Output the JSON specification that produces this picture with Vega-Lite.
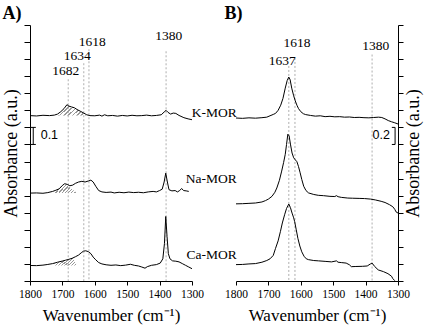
{
  "$schema": "https://vega.github.io/schema/vega-lite/v6.json",
  "padding": {"left": 2, "top": 4, "right": 2, "bottom": 2},
  "background": "white",
  "bounds": "flush",
  "spacing": 44,
  "config": {
    "view": {"stroke": null},
    "axis": {"grid": false, "domainColor": "#000", "tickColor": "#000", "labelColor": "#000", "titleColor": "#000",
      "labelFont": "Liberation Serif", "titleFont": "Liberation Serif", "titleFontWeight": "normal",
      "labelFontSize": 11.5, "titleFontSize": 17, "domainWidth": 1, "tickWidth": 1, "labelFlush": false, "labelOverlap": false},
    "title": {"font": "Liberation Serif", "fontWeight": "bold", "fontSize": 18, "anchor": "start", "color": "#000", "offset": 2}
  },
  "datasets": {
    "spectra": [
      {"p":"A","s":"K","w":1800,"a":9.69},{"p":"A","s":"K","w":1780,"a":9.67},{"p":"A","s":"K","w":1760,"a":9.71},{"p":"A","s":"K","w":1740,"a":9.69},{"p":"A","s":"K","w":1725,"a":9.72},{"p":"A","s":"K","w":1715,"a":9.78},{"p":"A","s":"K","w":1705,"a":9.92},{"p":"A","s":"K","w":1695,"a":10.1},{"p":"A","s":"K","w":1686,"a":10.33},{"p":"A","s":"K","w":1680,"a":10.25},{"p":"A","s":"K","w":1672,"a":10.2},{"p":"A","s":"K","w":1663,"a":10.15},{"p":"A","s":"K","w":1655,"a":10.05},{"p":"A","s":"K","w":1645,"a":9.95},{"p":"A","s":"K","w":1635,"a":9.85},{"p":"A","s":"K","w":1625,"a":9.74},{"p":"A","s":"K","w":1615,"a":9.69},{"p":"A","s":"K","w":1600,"a":9.68},{"p":"A","s":"K","w":1585,"a":9.72},{"p":"A","s":"K","w":1578,"a":9.66},{"p":"A","s":"K","w":1570,"a":9.74},{"p":"A","s":"K","w":1560,"a":9.68},{"p":"A","s":"K","w":1545,"a":9.7},{"p":"A","s":"K","w":1530,"a":9.66},{"p":"A","s":"K","w":1515,"a":9.7},{"p":"A","s":"K","w":1500,"a":9.67},{"p":"A","s":"K","w":1485,"a":9.71},{"p":"A","s":"K","w":1470,"a":9.68},{"p":"A","s":"K","w":1455,"a":9.69},{"p":"A","s":"K","w":1440,"a":9.72},{"p":"A","s":"K","w":1425,"a":9.68},{"p":"A","s":"K","w":1410,"a":9.7},{"p":"A","s":"K","w":1395,"a":9.74},{"p":"A","s":"K","w":1386,"a":9.9},{"p":"A","s":"K","w":1380,"a":10.0},{"p":"A","s":"K","w":1374,"a":9.88},{"p":"A","s":"K","w":1366,"a":9.78},{"p":"A","s":"K","w":1358,"a":9.84},{"p":"A","s":"K","w":1350,"a":9.82},{"p":"A","s":"K","w":1340,"a":9.7},{"p":"A","s":"K","w":1325,"a":9.57},{"p":"A","s":"K","w":1312,"a":9.5},{"p":"A","s":"K","w":1300,"a":9.45},
      {"p":"A","s":"Na","w":1800,"a":5.15},{"p":"A","s":"Na","w":1780,"a":5.16},{"p":"A","s":"Na","w":1760,"a":5.14},{"p":"A","s":"Na","w":1745,"a":5.18},{"p":"A","s":"Na","w":1730,"a":5.25},{"p":"A","s":"Na","w":1720,"a":5.32},{"p":"A","s":"Na","w":1710,"a":5.4},{"p":"A","s":"Na","w":1700,"a":5.6},{"p":"A","s":"Na","w":1693,"a":5.7},{"p":"A","s":"Na","w":1685,"a":5.66},{"p":"A","s":"Na","w":1677,"a":5.58},{"p":"A","s":"Na","w":1668,"a":5.62},{"p":"A","s":"Na","w":1660,"a":5.72},{"p":"A","s":"Na","w":1650,"a":5.8},{"p":"A","s":"Na","w":1640,"a":5.84},{"p":"A","s":"Na","w":1630,"a":5.8},{"p":"A","s":"Na","w":1620,"a":5.86},{"p":"A","s":"Na","w":1612,"a":5.91},{"p":"A","s":"Na","w":1605,"a":5.8},{"p":"A","s":"Na","w":1597,"a":5.55},{"p":"A","s":"Na","w":1588,"a":5.3},{"p":"A","s":"Na","w":1578,"a":5.22},{"p":"A","s":"Na","w":1565,"a":5.19},{"p":"A","s":"Na","w":1550,"a":5.21},{"p":"A","s":"Na","w":1540,"a":5.16},{"p":"A","s":"Na","w":1525,"a":5.2},{"p":"A","s":"Na","w":1510,"a":5.17},{"p":"A","s":"Na","w":1495,"a":5.21},{"p":"A","s":"Na","w":1480,"a":5.18},{"p":"A","s":"Na","w":1465,"a":5.2},{"p":"A","s":"Na","w":1450,"a":5.17},{"p":"A","s":"Na","w":1435,"a":5.22},{"p":"A","s":"Na","w":1420,"a":5.25},{"p":"A","s":"Na","w":1410,"a":5.22},{"p":"A","s":"Na","w":1400,"a":5.3},{"p":"A","s":"Na","w":1392,"a":5.38},{"p":"A","s":"Na","w":1386,"a":5.8},{"p":"A","s":"Na","w":1381,"a":6.32},{"p":"A","s":"Na","w":1376,"a":5.8},{"p":"A","s":"Na","w":1371,"a":5.35},{"p":"A","s":"Na","w":1362,"a":5.28},{"p":"A","s":"Na","w":1352,"a":5.3},{"p":"A","s":"Na","w":1345,"a":5.22},{"p":"A","s":"Na","w":1338,"a":5.3},{"p":"A","s":"Na","w":1332,"a":5.42},{"p":"A","s":"Na","w":1326,"a":5.3},{"p":"A","s":"Na","w":1318,"a":5.28},{"p":"A","s":"Na","w":1310,"a":5.25},
      {"p":"A","s":"Ca","w":1800,"a":0.91},{"p":"A","s":"Ca","w":1780,"a":0.9},{"p":"A","s":"Ca","w":1760,"a":0.93},{"p":"A","s":"Ca","w":1745,"a":0.97},{"p":"A","s":"Ca","w":1730,"a":1.02},{"p":"A","s":"Ca","w":1715,"a":1.1},{"p":"A","s":"Ca","w":1700,"a":1.17},{"p":"A","s":"Ca","w":1690,"a":1.22},{"p":"A","s":"Ca","w":1680,"a":1.27},{"p":"A","s":"Ca","w":1670,"a":1.33},{"p":"A","s":"Ca","w":1660,"a":1.42},{"p":"A","s":"Ca","w":1650,"a":1.52},{"p":"A","s":"Ca","w":1642,"a":1.65},{"p":"A","s":"Ca","w":1635,"a":1.75},{"p":"A","s":"Ca","w":1628,"a":1.77},{"p":"A","s":"Ca","w":1620,"a":1.72},{"p":"A","s":"Ca","w":1612,"a":1.6},{"p":"A","s":"Ca","w":1605,"a":1.4},{"p":"A","s":"Ca","w":1597,"a":1.24},{"p":"A","s":"Ca","w":1588,"a":1.08},{"p":"A","s":"Ca","w":1578,"a":1.0},{"p":"A","s":"Ca","w":1565,"a":0.95},{"p":"A","s":"Ca","w":1550,"a":0.92},{"p":"A","s":"Ca","w":1535,"a":0.94},{"p":"A","s":"Ca","w":1520,"a":0.9},{"p":"A","s":"Ca","w":1505,"a":0.93},{"p":"A","s":"Ca","w":1490,"a":0.98},{"p":"A","s":"Ca","w":1478,"a":0.92},{"p":"A","s":"Ca","w":1465,"a":0.88},{"p":"A","s":"Ca","w":1455,"a":0.82},{"p":"A","s":"Ca","w":1445,"a":0.75},{"p":"A","s":"Ca","w":1438,"a":0.84},{"p":"A","s":"Ca","w":1425,"a":0.92},{"p":"A","s":"Ca","w":1410,"a":0.96},{"p":"A","s":"Ca","w":1398,"a":1.05},{"p":"A","s":"Ca","w":1390,"a":1.3},{"p":"A","s":"Ca","w":1385,"a":2.2},{"p":"A","s":"Ca","w":1381,"a":3.78},{"p":"A","s":"Ca","w":1377,"a":2.6},{"p":"A","s":"Ca","w":1373,"a":1.6},{"p":"A","s":"Ca","w":1368,"a":1.3},{"p":"A","s":"Ca","w":1360,"a":1.18},{"p":"A","s":"Ca","w":1350,"a":1.16},{"p":"A","s":"Ca","w":1340,"a":1.12},{"p":"A","s":"Ca","w":1330,"a":1.02},{"p":"A","s":"Ca","w":1320,"a":0.92},{"p":"A","s":"Ca","w":1310,"a":0.82},{"p":"A","s":"Ca","w":1300,"a":0.72},
      {"p":"B","s":"K","w":1800,"a":9.55},{"p":"B","s":"K","w":1780,"a":9.53},{"p":"B","s":"K","w":1760,"a":9.56},{"p":"B","s":"K","w":1740,"a":9.54},{"p":"B","s":"K","w":1720,"a":9.57},{"p":"B","s":"K","w":1705,"a":9.6},{"p":"B","s":"K","w":1695,"a":9.68},{"p":"B","s":"K","w":1685,"a":9.76},{"p":"B","s":"K","w":1678,"a":9.82},{"p":"B","s":"K","w":1670,"a":10.0},{"p":"B","s":"K","w":1662,"a":10.3},{"p":"B","s":"K","w":1655,"a":10.7},{"p":"B","s":"K","w":1648,"a":11.3},{"p":"B","s":"K","w":1642,"a":11.75},{"p":"B","s":"K","w":1637,"a":11.95},{"p":"B","s":"K","w":1633,"a":11.8},{"p":"B","s":"K","w":1628,"a":11.3},{"p":"B","s":"K","w":1622,"a":10.85},{"p":"B","s":"K","w":1617,"a":10.55},{"p":"B","s":"K","w":1612,"a":10.3},{"p":"B","s":"K","w":1607,"a":10.1},{"p":"B","s":"K","w":1600,"a":9.92},{"p":"B","s":"K","w":1592,"a":9.8},{"p":"B","s":"K","w":1585,"a":9.75},{"p":"B","s":"K","w":1570,"a":9.7},{"p":"B","s":"K","w":1555,"a":9.66},{"p":"B","s":"K","w":1540,"a":9.68},{"p":"B","s":"K","w":1525,"a":9.63},{"p":"B","s":"K","w":1510,"a":9.65},{"p":"B","s":"K","w":1495,"a":9.62},{"p":"B","s":"K","w":1480,"a":9.63},{"p":"B","s":"K","w":1465,"a":9.6},{"p":"B","s":"K","w":1450,"a":9.61},{"p":"B","s":"K","w":1435,"a":9.58},{"p":"B","s":"K","w":1420,"a":9.59},{"p":"B","s":"K","w":1405,"a":9.57},{"p":"B","s":"K","w":1390,"a":9.56},{"p":"B","s":"K","w":1375,"a":9.58},{"p":"B","s":"K","w":1360,"a":9.6},{"p":"B","s":"K","w":1350,"a":9.58},{"p":"B","s":"K","w":1340,"a":9.5},{"p":"B","s":"K","w":1330,"a":9.4},{"p":"B","s":"K","w":1320,"a":9.33},{"p":"B","s":"K","w":1310,"a":9.27},{"p":"B","s":"K","w":1300,"a":9.2},
      {"p":"B","s":"Na","w":1800,"a":4.52},{"p":"B","s":"Na","w":1780,"a":4.53},{"p":"B","s":"Na","w":1760,"a":4.55},{"p":"B","s":"Na","w":1740,"a":4.57},{"p":"B","s":"Na","w":1720,"a":4.63},{"p":"B","s":"Na","w":1709,"a":4.71},{"p":"B","s":"Na","w":1700,"a":4.8},{"p":"B","s":"Na","w":1689,"a":4.96},{"p":"B","s":"Na","w":1680,"a":5.2},{"p":"B","s":"Na","w":1674,"a":5.45},{"p":"B","s":"Na","w":1666,"a":5.9},{"p":"B","s":"Na","w":1659,"a":6.44},{"p":"B","s":"Na","w":1653,"a":6.95},{"p":"B","s":"Na","w":1648,"a":7.42},{"p":"B","s":"Na","w":1644,"a":8.0},{"p":"B","s":"Na","w":1640,"a":8.6},{"p":"B","s":"Na","w":1636,"a":8.5},{"p":"B","s":"Na","w":1632,"a":8.02},{"p":"B","s":"Na","w":1627,"a":7.5},{"p":"B","s":"Na","w":1622,"a":7.22},{"p":"B","s":"Na","w":1617,"a":7.1},{"p":"B","s":"Na","w":1612,"a":6.99},{"p":"B","s":"Na","w":1607,"a":6.7},{"p":"B","s":"Na","w":1602,"a":6.34},{"p":"B","s":"Na","w":1597,"a":5.95},{"p":"B","s":"Na","w":1591,"a":5.55},{"p":"B","s":"Na","w":1584,"a":5.3},{"p":"B","s":"Na","w":1576,"a":5.16},{"p":"B","s":"Na","w":1560,"a":5.07},{"p":"B","s":"Na","w":1546,"a":5.02},{"p":"B","s":"Na","w":1530,"a":5.0},{"p":"B","s":"Na","w":1510,"a":4.96},{"p":"B","s":"Na","w":1495,"a":4.95},{"p":"B","s":"Na","w":1490,"a":5.0},{"p":"B","s":"Na","w":1485,"a":4.94},{"p":"B","s":"Na","w":1475,"a":4.9},{"p":"B","s":"Na","w":1455,"a":4.86},{"p":"B","s":"Na","w":1440,"a":4.85},{"p":"B","s":"Na","w":1420,"a":4.84},{"p":"B","s":"Na","w":1403,"a":4.83},{"p":"B","s":"Na","w":1385,"a":4.8},{"p":"B","s":"Na","w":1370,"a":4.75},{"p":"B","s":"Na","w":1352,"a":4.67},{"p":"B","s":"Na","w":1340,"a":4.6},{"p":"B","s":"Na","w":1326,"a":4.47},{"p":"B","s":"Na","w":1316,"a":4.35},{"p":"B","s":"Na","w":1310,"a":4.2},{"p":"B","s":"Na","w":1306,"a":4.05},{"p":"B","s":"Na","w":1300,"a":3.98},
      {"p":"B","s":"Ca","w":1800,"a":0.96},{"p":"B","s":"Ca","w":1780,"a":0.97},{"p":"B","s":"Ca","w":1760,"a":1.0},{"p":"B","s":"Ca","w":1740,"a":1.02},{"p":"B","s":"Ca","w":1720,"a":1.1},{"p":"B","s":"Ca","w":1705,"a":1.2},{"p":"B","s":"Ca","w":1695,"a":1.3},{"p":"B","s":"Ca","w":1685,"a":1.5},{"p":"B","s":"Ca","w":1678,"a":1.91},{"p":"B","s":"Ca","w":1670,"a":2.35},{"p":"B","s":"Ca","w":1663,"a":2.89},{"p":"B","s":"Ca","w":1657,"a":3.4},{"p":"B","s":"Ca","w":1650,"a":3.88},{"p":"B","s":"Ca","w":1644,"a":4.25},{"p":"B","s":"Ca","w":1637,"a":4.51},{"p":"B","s":"Ca","w":1632,"a":4.3},{"p":"B","s":"Ca","w":1627,"a":3.98},{"p":"B","s":"Ca","w":1622,"a":3.7},{"p":"B","s":"Ca","w":1619,"a":3.48},{"p":"B","s":"Ca","w":1614,"a":3.0},{"p":"B","s":"Ca","w":1609,"a":2.5},{"p":"B","s":"Ca","w":1603,"a":2.05},{"p":"B","s":"Ca","w":1597,"a":1.71},{"p":"B","s":"Ca","w":1590,"a":1.45},{"p":"B","s":"Ca","w":1583,"a":1.3},{"p":"B","s":"Ca","w":1576,"a":1.25},{"p":"B","s":"Ca","w":1560,"a":1.2},{"p":"B","s":"Ca","w":1545,"a":1.18},{"p":"B","s":"Ca","w":1525,"a":1.15},{"p":"B","s":"Ca","w":1505,"a":1.12},{"p":"B","s":"Ca","w":1490,"a":1.18},{"p":"B","s":"Ca","w":1485,"a":1.1},{"p":"B","s":"Ca","w":1475,"a":1.08},{"p":"B","s":"Ca","w":1460,"a":1.05},{"p":"B","s":"Ca","w":1450,"a":0.95},{"p":"B","s":"Ca","w":1444,"a":0.84},{"p":"B","s":"Ca","w":1430,"a":0.85},{"p":"B","s":"Ca","w":1410,"a":0.86},{"p":"B","s":"Ca","w":1395,"a":0.88},{"p":"B","s":"Ca","w":1385,"a":1.0},{"p":"B","s":"Ca","w":1380,"a":1.05},{"p":"B","s":"Ca","w":1372,"a":0.85},{"p":"B","s":"Ca","w":1361,"a":0.65},{"p":"B","s":"Ca","w":1345,"a":0.55},{"p":"B","s":"Ca","w":1331,"a":0.43},{"p":"B","s":"Ca","w":1320,"a":0.28},{"p":"B","s":"Ca","w":1316,"a":0.14},{"p":"B","s":"Ca","w":1310,"a":0.02}
    ],
    "hatch": [
      {"s":"K","w":1716,"a":9.76,"b":9.69},{"s":"K","w":1705,"a":9.92,"b":9.69},{"s":"K","w":1695,"a":10.1,"b":9.69},{"s":"K","w":1686,"a":10.33,"b":9.69},{"s":"K","w":1680,"a":10.25,"b":9.69},{"s":"K","w":1672,"a":10.2,"b":9.69},{"s":"K","w":1663,"a":10.15,"b":9.69},{"s":"K","w":1655,"a":10.05,"b":9.69},{"s":"K","w":1645,"a":9.95,"b":9.69},{"s":"K","w":1635,"a":9.85,"b":9.69},{"s":"K","w":1625,"a":9.74,"b":9.69},{"s":"K","w":1618,"a":9.69,"b":9.69},
      {"s":"Na","w":1726,"a":5.22,"b":5.15},{"s":"Na","w":1710,"a":5.4,"b":5.15},{"s":"Na","w":1700,"a":5.6,"b":5.15},{"s":"Na","w":1693,"a":5.7,"b":5.15},{"s":"Na","w":1685,"a":5.62,"b":5.15},{"s":"Na","w":1675,"a":5.45,"b":5.15},{"s":"Na","w":1665,"a":5.3,"b":5.15},{"s":"Na","w":1655,"a":5.16,"b":5.15},
      {"s":"Ca","w":1726,"a":1.03,"b":0.91},{"s":"Ca","w":1700,"a":1.17,"b":0.91},{"s":"Ca","w":1680,"a":1.27,"b":0.91},{"s":"Ca","w":1668,"a":1.36,"b":0.91},{"s":"Ca","w":1655,"a":0.92,"b":0.91}
    ],
    "vlines": [
      {"p":"A","w":1682,"a":11.82},{"p":"A","w":1634,"a":12.76},{"p":"A","w":1618,"a":13.58},{"p":"A","w":1380,"a":13.46},
      {"p":"B","w":1637,"a":12.6},{"p":"B","w":1618,"a":13.07},{"p":"B","w":1380,"a":13.27}
    ],
    "peaks": [
      {"p":"A","t":"1682","w":1690,"a":12.29},{"p":"A","t":"1634","w":1654,"a":13.17},{"p":"A","t":"1618","w":1608,"a":13.99},{"p":"A","t":"1380","w":1372,"a":14.34},
      {"p":"B","t":"1618","w":1612,"a":13.95},{"p":"B","t":"1637","w":1657,"a":12.87},{"p":"B","t":"1380","w":1369,"a":13.75}
    ],
    "samples": [
      {"t":"K-MOR","w":1162,"a":9.84},{"t":"Na-MOR","w":1162,"a":5.95},{"t":"Ca-MOR","w":1162,"a":1.53}
    ],
    "bars": [
      {"p":"A","w":1790,"w2":1790,"a":8,"a2":9},{"p":"A","w":1798,"w2":1782,"a":8,"a2":8},{"p":"A","w":1798,"w2":1782,"a":9,"a2":9},
      {"p":"B","w":1309,"w2":1309,"a":8,"a2":9},{"p":"B","w":1319,"w2":1309,"a":8,"a2":8},{"p":"B","w":1319,"w2":1309,"a":9,"a2":9}
    ],
    "barlabels": [
      {"p":"A","t":"0.1","w":1767,"a":8.53},{"p":"B","t":"0.2","w":1325,"a":8.57}
    ]
  },
  "hconcat": [
    {
      "width": 162, "height": 256,
      "title": {"text": "A)"},
      "encoding": {
        "x": {"field": "w", "type": "quantitative", "scale": {"domain": [1300, 1800], "reverse": true, "nice": false, "zero": false},
          "axis": {"values": [1800, 1700, 1600, 1500, 1400, 1300], "format": "d", "tickSize": 4, "labelPadding": 3, "labelFont": "Liberation Serif", "labelFontSize": 11.5, "title": "Wavenumber (cm⁻¹)", "titleFont": "Liberation Serif", "titleFontSize": 17, "titlePadding": 8}},
        "y": {"field": "a", "type": "quantitative", "scale": {"domain": [0, 15], "nice": false, "zero": false},
          "axis": {"orient": "left", "values": [0,1,2,3,4,5,6,7,8,9,10,11,12,13,14,15], "labels": false, "tickSize": 6, "title": "Absorbance (a.u.)", "titleFont": "Liberation Serif", "titlePadding": 3, "titleFontSize": 18}}
      },
      "layer": [
        {"data": {"name": "hatch"},
         "mark": {"type": "area", "fill": {"gradient": "linear", "x1": 0, "y1": 0, "x2": 1.2, "y2": 0.45, "stops": [
           {"offset":0,"color":"#999"},{"offset":0.04,"color":"#999"},{"offset":0.04,"color":"white"},{"offset":0.1,"color":"white"},
           {"offset":0.1,"color":"#999"},{"offset":0.14,"color":"#999"},{"offset":0.14,"color":"white"},{"offset":0.2,"color":"white"},
           {"offset":0.2,"color":"#999"},{"offset":0.24,"color":"#999"},{"offset":0.24,"color":"white"},{"offset":0.3,"color":"white"},
           {"offset":0.3,"color":"#999"},{"offset":0.34,"color":"#999"},{"offset":0.34,"color":"white"},{"offset":0.4,"color":"white"},
           {"offset":0.4,"color":"#999"},{"offset":0.44,"color":"#999"},{"offset":0.44,"color":"white"},{"offset":0.5,"color":"white"},
           {"offset":0.5,"color":"#999"},{"offset":0.54,"color":"#999"},{"offset":0.54,"color":"white"},{"offset":0.6,"color":"white"},
           {"offset":0.6,"color":"#999"},{"offset":0.64,"color":"#999"},{"offset":0.64,"color":"white"},{"offset":0.7,"color":"white"},
           {"offset":0.7,"color":"#999"},{"offset":0.74,"color":"#999"},{"offset":0.74,"color":"white"},{"offset":0.8,"color":"white"},
           {"offset":0.8,"color":"#999"},{"offset":0.84,"color":"#999"},{"offset":0.84,"color":"white"},{"offset":0.9,"color":"white"},
           {"offset":0.9,"color":"#999"},{"offset":0.94,"color":"#999"},{"offset":0.94,"color":"white"},{"offset":1,"color":"white"}]}},
         "encoding": {"y2": {"field": "b"}, "detail": {"field": "s"}}},
        {"data": {"name": "vlines"}, "transform": [{"filter": "datum.p === 'A'"}],
         "mark": {"type": "rule", "color": "#999", "strokeWidth": 0.8, "strokeDash": [2, 2]},
         "encoding": {"y2": {"datum": 0}}},
        {"data": {"name": "spectra"}, "transform": [{"filter": "datum.p === 'A'"}],
         "mark": {"type": "line", "color": "#000", "strokeWidth": 1},
         "encoding": {"detail": {"field": "s"}}},
        {"data": {"name": "peaks"}, "transform": [{"filter": "datum.p === 'A'"}],
         "mark": {"type": "text", "font": "Liberation Serif", "fontSize": 13.5, "color": "#000", "baseline": "middle"},
         "encoding": {"text": {"field": "t"}}},
        {"data": {"name": "samples"},
         "mark": {"type": "text", "font": "Liberation Serif", "fontSize": 13.5, "color": "#000", "align": "right", "baseline": "middle"},
         "encoding": {"text": {"field": "t"}}},
        {"data": {"name": "bars"}, "transform": [{"filter": "datum.p === 'A'"}],
         "mark": {"type": "rule", "color": "#000", "strokeWidth": 1},
         "encoding": {"x2": {"field": "w2"}, "y2": {"field": "a2"}}},
        {"data": {"name": "barlabels"}, "transform": [{"filter": "datum.p === 'A'"}],
         "mark": {"type": "text", "font": "Liberation Sans", "fontSize": 12.5, "color": "#000", "align": "left", "baseline": "middle"},
         "encoding": {"text": {"field": "t"}}}
      ]
    },
    {
      "width": 162, "height": 256,
      "title": {"text": "B)"},
      "encoding": {
        "x": {"field": "w", "type": "quantitative", "scale": {"domain": [1300, 1800], "reverse": true, "nice": false, "zero": false},
          "axis": {"values": [1800, 1700, 1600, 1500, 1400, 1300], "format": "d", "tickSize": 4, "labelPadding": 3, "labelFont": "Liberation Serif", "labelFontSize": 11.5, "title": "Wavenumber (cm⁻¹)", "titleFont": "Liberation Serif", "titleFontSize": 17, "titlePadding": 8}},
        "y": {"field": "a", "type": "quantitative", "scale": {"domain": [0, 15], "nice": false, "zero": false},
          "axis": {"orient": "right", "values": [0,1,2,3,4,5,6,7,8,9,10,11,12,13,14,15], "labels": false, "tickSize": 5, "title": "Absorbance (a.u.)", "titleFont": "Liberation Serif", "titleAngle": 270, "titleBaseline": "top", "titlePadding": 1, "titleFontSize": 18}}
      },
      "layer": [
        {"data": {"name": "vlines"}, "transform": [{"filter": "datum.p === 'B'"}],
         "mark": {"type": "rule", "color": "#999", "strokeWidth": 0.8, "strokeDash": [2, 2]},
         "encoding": {"y2": {"datum": 0}}},
        {"data": {"name": "spectra"}, "transform": [{"filter": "datum.p === 'B'"}],
         "mark": {"type": "line", "color": "#000", "strokeWidth": 1},
         "encoding": {"detail": {"field": "s"}}},
        {"data": {"name": "peaks"}, "transform": [{"filter": "datum.p === 'B'"}],
         "mark": {"type": "text", "font": "Liberation Serif", "fontSize": 13.5, "color": "#000", "baseline": "middle"},
         "encoding": {"text": {"field": "t"}}},
        {"data": {"name": "bars"}, "transform": [{"filter": "datum.p === 'B'"}],
         "mark": {"type": "rule", "color": "#000", "strokeWidth": 1},
         "encoding": {"x2": {"field": "w2"}, "y2": {"field": "a2"}}},
        {"data": {"name": "barlabels"}, "transform": [{"filter": "datum.p === 'B'"}],
         "mark": {"type": "text", "font": "Liberation Sans", "fontSize": 12.5, "color": "#000", "align": "right", "baseline": "middle"},
         "encoding": {"text": {"field": "t"}}}
      ]
    }
  ]
}
